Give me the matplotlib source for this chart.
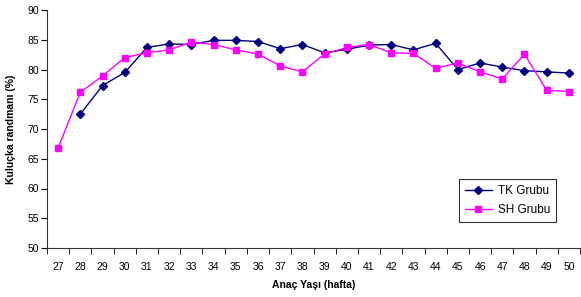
import matplotlib.pyplot as plt
import numpy as np

plt.rcParams['font.family'] = ['Liberation Sans', 'DejaVu Sans']

haftalar = [27, 28, 29, 30, 31, 32, 33, 34, 35, 36, 37, 38,
            39, 40, 41, 42, 43, 44, 45, 46, 47, 48, 49, 50]
tk_grubu = [np.nan, 72.5, 77.3, 79.5, 83.7, 84.3, 84.2, 84.9, 84.9, 84.7, 83.5, 84.2,
            82.8, 83.4, 84.1, 84.2, 83.3, 84.4, 80.0, 81.1, 80.4, 79.8, 79.6, 79.4]
sh_grubu = [66.8, 76.2, 78.9, 82.0, 82.8, 83.3, 84.6, 84.2, 83.3, 82.6, 80.6, 79.6,
            82.6, 83.7, 84.2, 82.8, 82.7, 80.2, 81.1, 79.6, 78.4, 82.6, 76.5, 76.3]

fig = plt.figure(figsize=(5.81, 2.97), dpi=100)
ax = fig.add_axes([47 / 581, 1 - 248 / 297, 533 / 581, 238 / 297])

x = np.arange(len(haftalar))
ax.plot(x, tk_grubu, color='#000080', marker='D', markersize=4, linewidth=1, label='TK Grubu')
ax.plot(x, sh_grubu, color='#FF00FF', marker='s', markersize=5, linewidth=1, label='SH Grubu')

ax.set_xlim(-0.5, len(haftalar) - 0.5)
ax.set_ylim(50, 90)
ax.set_yticks(np.arange(50, 91, 5))
ax.tick_params(axis='y', labelsize=7.5, length=4, pad=2)

ax.set_xticks(x)
ax.set_xticklabels([str(h) for h in haftalar])
ax.set_xticks(np.arange(-0.5, len(haftalar), 1), minor=True)
ax.tick_params(axis='x', which='major', length=0, labelsize=7.5, pad=10)
ax.tick_params(axis='x', which='minor', length=4)

for s in ['top', 'right']:
    ax.spines[s].set_visible(False)
for s in ['left', 'bottom']:
    ax.spines[s].set_color('#333333')

ax.set_xlabel('Anaç Yaşı (hafta)', fontsize=7.5, fontweight='bold', labelpad=6)
ax.set_ylabel('Kuluçka randmanı (%)', fontsize=7.5, fontweight='bold', labelpad=8)

leg = ax.legend(loc='lower right', bbox_to_anchor=(0.955, 0.109), borderaxespad=0,
                fontsize=8.5, frameon=True, fancybox=False, edgecolor='black',
                borderpad=0.5, handlelength=2.3, handletextpad=0.5, labelspacing=0.6)
leg.get_frame().set_linewidth(0.8)

fig.savefig('out.png', dpi=100)
